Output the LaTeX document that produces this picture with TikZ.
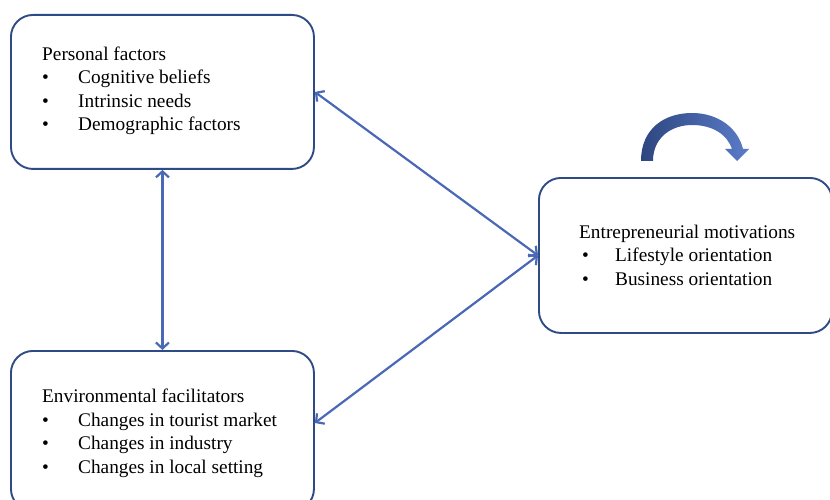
\documentclass[tikz,border=0pt]{standalone}
\usepackage{fontspec}
\setmainfont{Liberation Serif}
\usetikzlibrary{arrows.meta,calc}
\definecolor{boxblue}{HTML}{2F4B86}
\definecolor{linkblue}{HTML}{4A68B5}
\definecolor{curlA}{HTML}{2E4680}
\definecolor{curlB}{HTML}{5B7CC9}
\newcommand{\itembul}[1]{\makebox[36pt][l]{•}#1}
\tikzset{
  box/.style={draw=boxblue, line width=1.9pt, rounded corners=22pt, anchor=north west, inner sep=0pt},
  label/.style={anchor=base west, inner sep=0pt, align=left, font=\fontsize{19.3}{23.5}\selectfont},
  barb/.tip={Straight Barb[length=6pt,width=13pt]},
  link/.style={barb-barb, draw=linkblue, line width=2.2pt}
}
\begin{document}
\begin{tikzpicture}[x=1pt,y=-1pt]
\useasboundingbox (0,0) rectangle (830,500);

% the three boxes
\node[box, minimum width=303pt, minimum height=154pt] (pf) at (10,14) {};
\node[box, minimum width=303pt, minimum height=160pt] (env) at (10,350) {};
\node[box, minimum width=293pt, minimum height=155pt] (em) at (538,177) {};

% box texts (anchored at the baseline of their last line)
\node[label] (pftext) at (42,131) {Personal factors\\
\itembul{Cognitive beliefs}\\
\itembul{Intrinsic needs}\\
\itembul{Demographic factors}};
\node[label] (envtext) at (42,473) {Environmental facilitators\\
\itembul{Changes in tourist market}\\
\itembul{Changes in industry}\\
\itembul{Changes in local setting}};
\node[label] (emtext) at (579,285) {Entrepreneurial motivations\\
\hspace*{3pt}\makebox[33pt][l]{•}Lifestyle orientation\\
\hspace*{3pt}\makebox[33pt][l]{•}Business orientation};

% connectors
\coordinate (envport) at ($(env.north east)+(0,73)$);
\draw[link] (pf.south) -- (env.north);
\draw[link] (pf.east) -- (em.west);
\draw[link] (envport) -- (em.west);

% curved self-arrow above the motivations box
\shade[left color=curlA, right color=curlB, shading angle=90]
  (641,161) .. controls (641,128) and (665,113) .. (692,113)
  .. controls (718,113) and (738,128) .. (743,149)
  -- (749,149) -- (737,161) -- (725,149) -- (732,149)
  .. controls (727,134) and (712,125) .. (692,125)
  .. controls (672,125) and (653,137) .. (653,161) -- cycle;
\end{tikzpicture}
\end{document}
